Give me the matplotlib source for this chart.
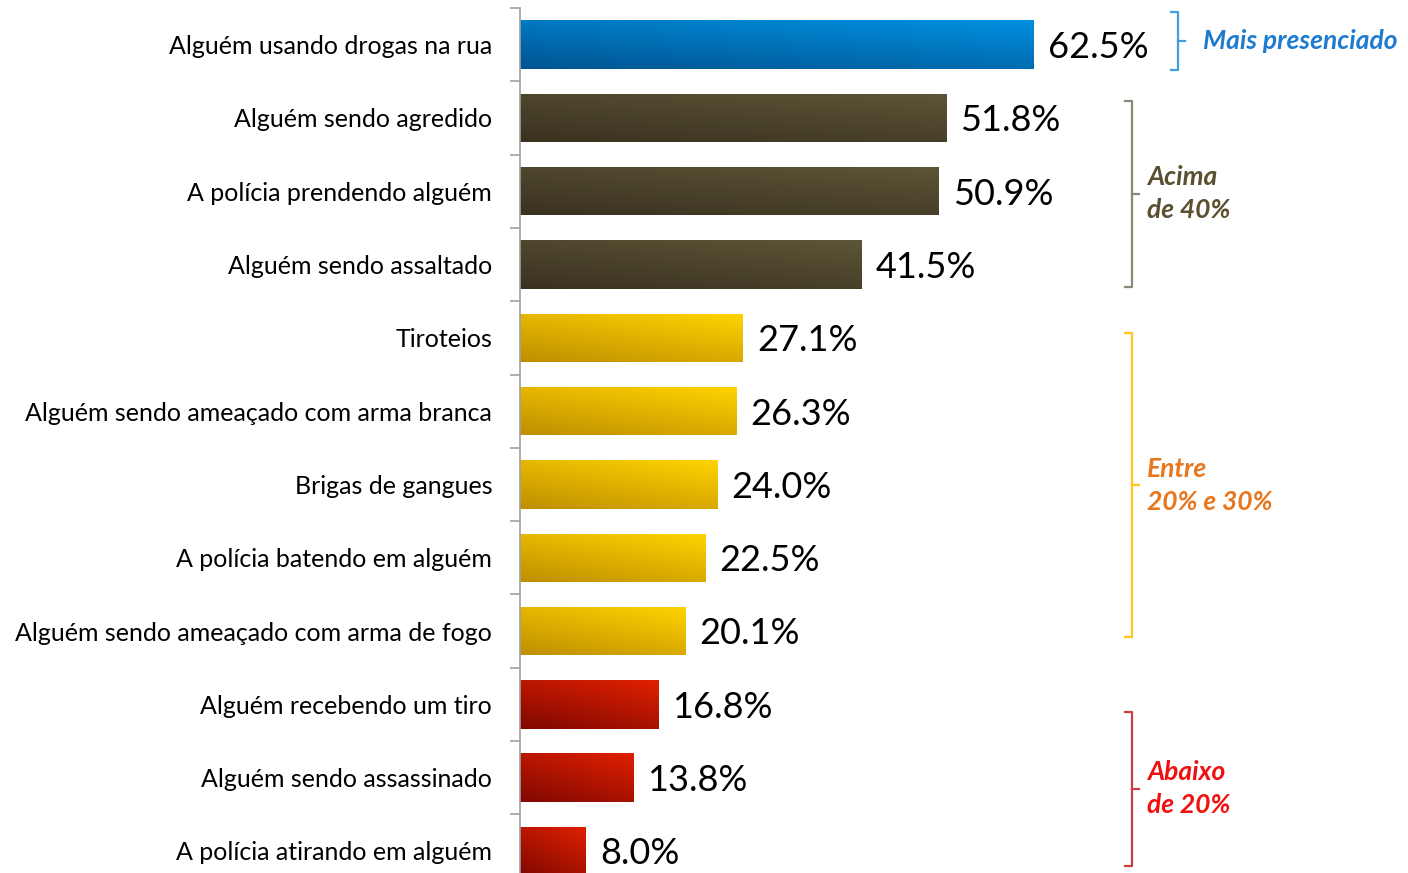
import matplotlib.pyplot as plt
import matplotlib.colors as mcolors
import numpy as np

plt.rcParams['font.family'] = ['Lato', 'DejaVu Sans']

categories = [
    "Alguém usando drogas na rua",
    "Alguém sendo agredido",
    "A polícia prendendo alguém",
    "Alguém sendo assaltado",
    "Tiroteios",
    "Alguém sendo ameaçado com arma branca",
    "Brigas de gangues",
    "A polícia batendo em alguém",
    "Alguém sendo ameaçado com arma de fogo",
    "Alguém recebendo um tiro",
    "Alguém sendo assassinado",
    "A polícia atirando em alguém",
]
values = [62.5, 51.8, 50.9, 41.5, 27.1, 26.3, 24.0, 22.5, 20.1, 16.8, 13.8, 8.0]
group_of_bar = [0, 1, 1, 1, 2, 2, 2, 2, 2, 3, 3, 3]
group_labels = ["Mais presenciado", "Acima\nde 40%", "Entre\n20% e 30%", "Abaixo\nde 20%"]

# (dark bottom-left, light top-right) per group
bar_grad = [("#005592", "#0090E0"), ("#3A3220", "#5C5536"),
            ("#C08E00", "#FFD400"), ("#800800", "#E02000")]
text_col = ["#1E7BD0", "#5A5030", "#E8761C", "#F01010"]
brace_col = ["#3FA0E0", "#8C8878", "#FFC81E", "#C84040"]
# brace extent offsets (above first bar, below last bar), in rows
brace_pad = [(-0.45, 0.35), (-0.23, 0.3), (-0.06, 0.08), (0.1, 0.2)]

W, H = 1408, 873
fig = plt.figure(figsize=(W / 100, H / 100), dpi=100)
px_per_unit = 8.224
row = 73.3
left_px, top_px = 520, 8
ax = fig.add_axes([left_px / W, 1 - (top_px + 12 * row) / H, (W - left_px) / W, 12 * row / H])
ax.set_xlim(0, (W - left_px) / px_per_unit)
ax.set_ylim(11.5, -0.5)

y = np.arange(len(values))
bh = 0.66
bars = ax.barh(y, values, height=bh, color="none", edgecolor="none")

# diagonal gradient
gx, gy = np.meshgrid(np.linspace(0, 1, 200), np.linspace(0, 1, 50))
for i, b in enumerate(bars):
    dark, light = bar_grad[group_of_bar[i]]
    cmap = mcolors.LinearSegmentedColormap.from_list("g", [dark, light])
    g = 0.6 * gy + 0.4 * gx
    im = ax.imshow(g, cmap=cmap, extent=[0, values[i], i + bh / 2, i - bh / 2],
                   aspect="auto", zorder=2, origin="lower")
    im.set_clip_path(b)
    ax.text(values[i] + 1.7, i + 0.04, f"{values[i]:.1f}%", va="center", ha="left",
            fontsize=26, color="black")

ax.set_yticks(y)
ax.set_yticklabels(categories, fontsize=18)
for t in ax.get_yticklabels():
    t.set_va("center_baseline")
ax.set_yticks(np.arange(-0.5, 12, 1), minor=True)
ax.tick_params(axis="y", which="major", length=0, pad=20)
ax.tick_params(axis="y", which="minor", length=7, color="#A0A0A0", width=1.2)
ax.set_xticks([])
for s in ["top", "right", "bottom"]:
    ax.spines[s].set_visible(False)
ax.spines["left"].set_color("#A0A0A0")
ax.spines["left"].set_linewidth(1.2)

# braces
def brace(x, y0, y1, color, text, tcol, tx):
    hook = 0.8
    ax.plot([x - hook, x, x, x - hook], [y0, y0, y1, y1], color=color, lw=1.6, clip_on=False)
    ym = (y0 + y1) / 2
    ax.plot([x, x + hook], [ym, ym], color=color, lw=1.6, clip_on=False)
    ax.text(tx, ym, text, color=tcol, fontsize=19, fontweight="bold", style="italic",
            va="center", ha="left", linespacing=1.45)

for gi in sorted(set(group_of_bar)):
    idx = [i for i, g in enumerate(group_of_bar) if g == gi]
    y0 = idx[0] + brace_pad[gi][0]
    y1 = idx[-1] + brace_pad[gi][1]
    if gi == 0:
        bx, tx = 1178, 1203
    else:
        bx, tx = 1132, 1147
    brace((bx - left_px) / px_per_unit, y0, y1, brace_col[gi], group_labels[gi],
          text_col[gi], (tx - left_px) / px_per_unit)

fig.savefig("out.png", dpi=100)
